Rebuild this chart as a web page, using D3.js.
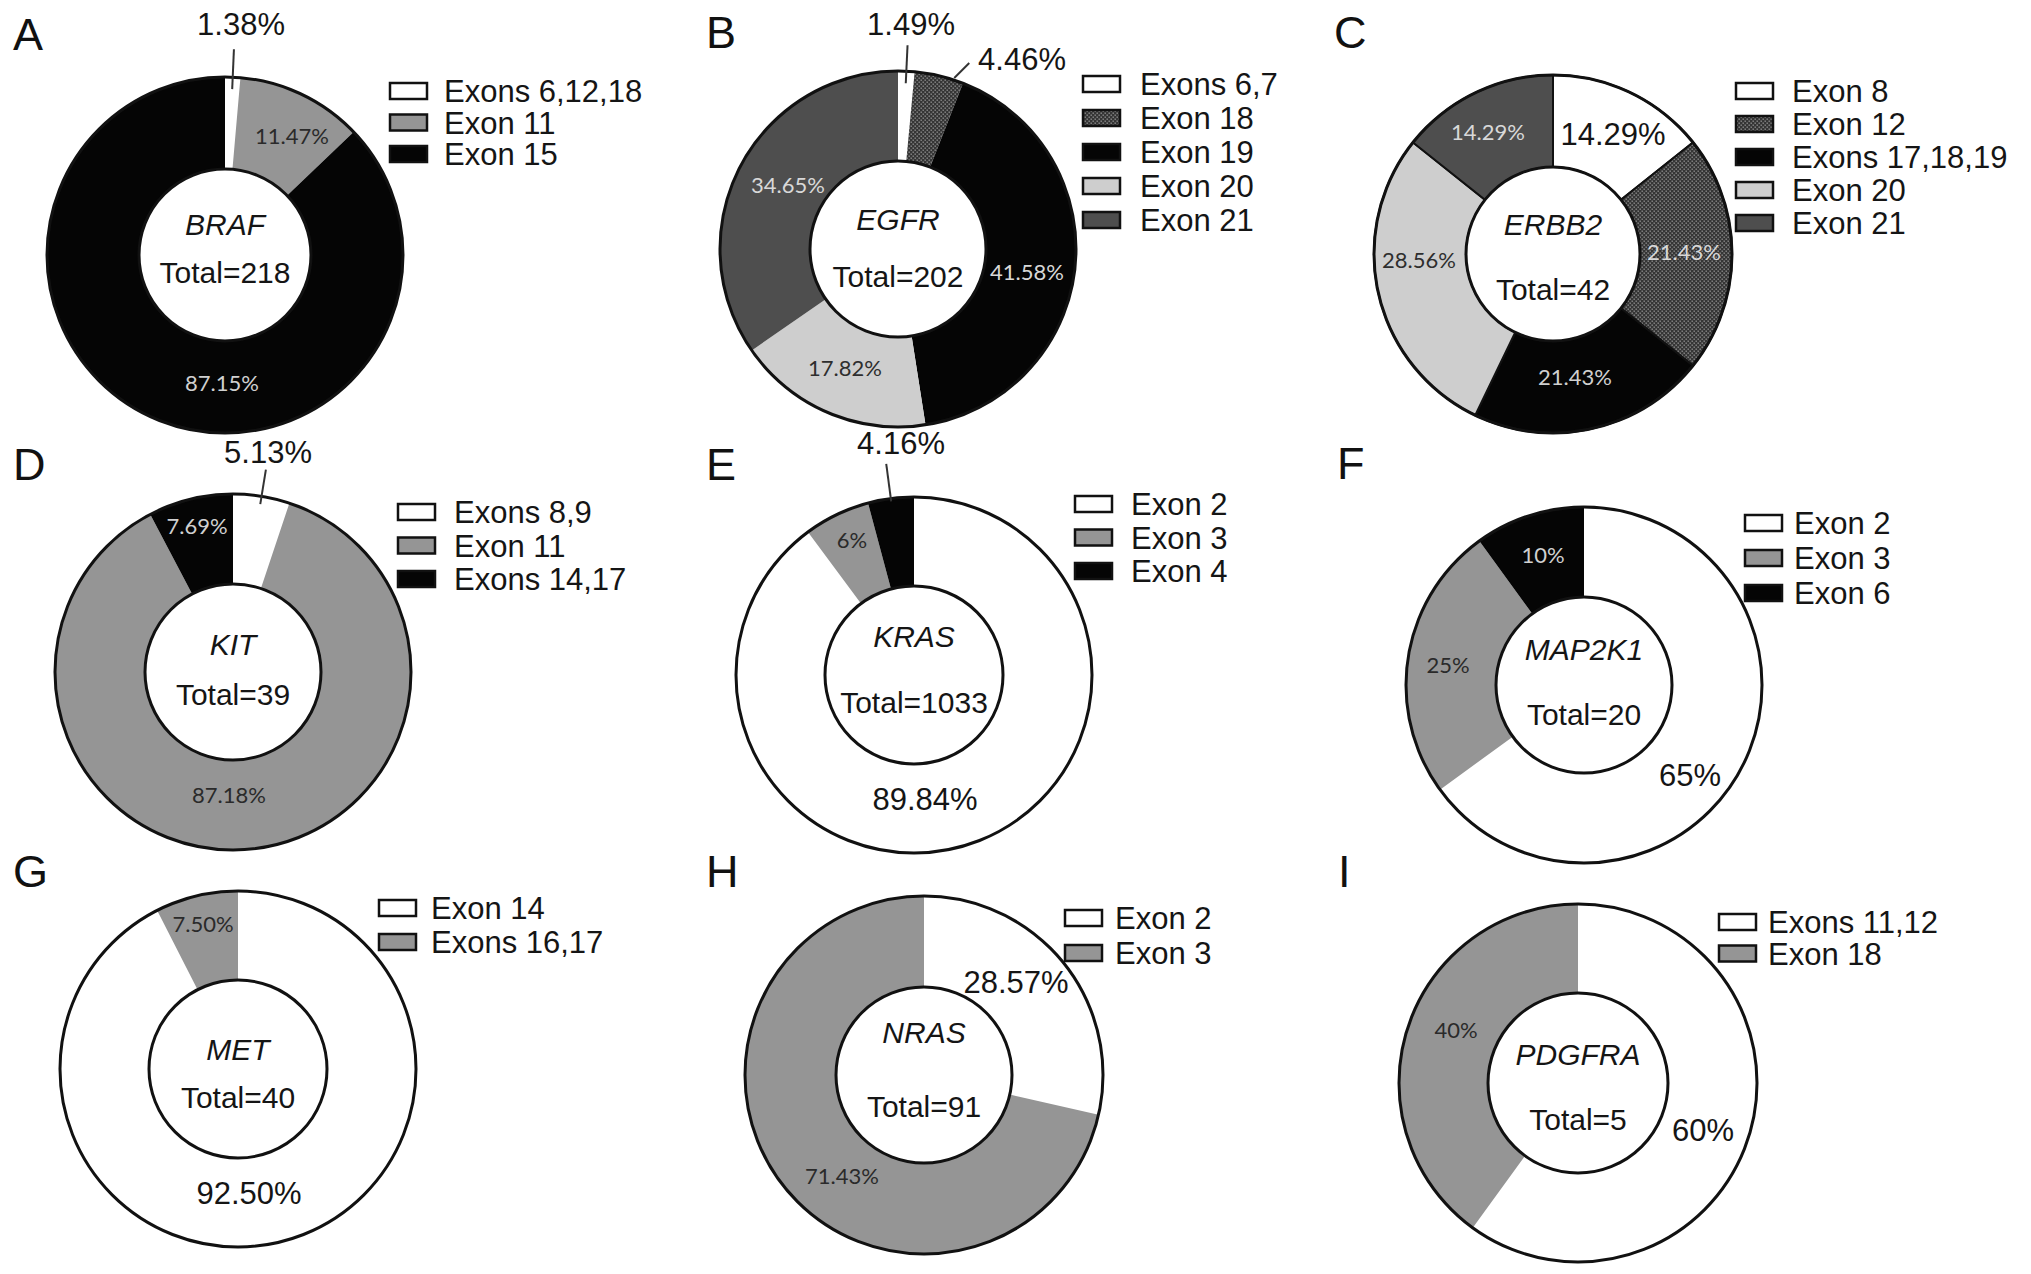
<!DOCTYPE html>
<html>
<head>
<meta charset="utf-8">
<script src="https://cdn.jsdelivr.net/npm/d3@7"></script>
<style>
  html, body { margin: 0; padding: 0; background: #fff; }
  svg { display: block; }
</style>
</head>
<body>
<script>
// ---------------- DATA ----------------
const PANEL_LETTERS = ["A", "B", "C", "D", "E", "F", "G", "H", "I"];
const GENES  = ["BRAF", "EGFR", "ERBB2", "KIT", "KRAS", "MAP2K1", "MET", "NRAS", "PDGFRA"];
const TOTALS = [218, 202, 42, 39, 1033, 20, 40, 91, 5];

const BRAF_EXONS  = ["Exons 6,12,18", "Exon 11", "Exon 15"];
const BRAF_VALUES = [1.38, 11.47, 87.15];
const BRAF_LABELS = ["1.38%", "11.47%", "87.15%"];

const EGFR_EXONS  = ["Exons 6,7", "Exon 18", "Exon 19", "Exon 20", "Exon 21"];
const EGFR_VALUES = [1.49, 4.46, 41.58, 17.82, 34.65];
const EGFR_LABELS = ["1.49%", "4.46%", "41.58%", "17.82%", "34.65%"];

const ERBB2_EXONS  = ["Exon 8", "Exon 12", "Exons 17,18,19", "Exon 20", "Exon 21"];
const ERBB2_VALUES = [14.29, 21.43, 21.43, 28.56, 14.29];
const ERBB2_LABELS = ["14.29%", "21.43%", "21.43%", "28.56%", "14.29%"];

const KIT_EXONS  = ["Exons 8,9", "Exon 11", "Exons 14,17"];
const KIT_VALUES = [5.13, 87.18, 7.69];
const KIT_LABELS = ["5.13%", "87.18%", "7.69%"];

const KRAS_EXONS  = ["Exon 2", "Exon 3", "Exon 4"];
const KRAS_VALUES = [89.84, 6, 4.16];
const KRAS_LABELS = ["89.84%", "6%", "4.16%"];

const MAP2K1_EXONS  = ["Exon 2", "Exon 3", "Exon 6"];
const MAP2K1_VALUES = [65, 25, 10];
const MAP2K1_LABELS = ["65%", "25%", "10%"];

const MET_EXONS  = ["Exon 14", "Exons 16,17"];
const MET_VALUES = [92.5, 7.5];
const MET_LABELS = ["92.50%", "7.50%"];

const NRAS_EXONS  = ["Exon 2", "Exon 3"];
const NRAS_VALUES = [28.57, 71.43];
const NRAS_LABELS = ["28.57%", "71.43%"];

const PDGFRA_EXONS  = ["Exons 11,12", "Exon 18"];
const PDGFRA_VALUES = [60, 40];
const PDGFRA_LABELS = ["60%", "40%"];

const SERIES = {
  BRAF:   [BRAF_EXONS, BRAF_VALUES, BRAF_LABELS],
  EGFR:   [EGFR_EXONS, EGFR_VALUES, EGFR_LABELS],
  ERBB2:  [ERBB2_EXONS, ERBB2_VALUES, ERBB2_LABELS],
  KIT:    [KIT_EXONS, KIT_VALUES, KIT_LABELS],
  KRAS:   [KRAS_EXONS, KRAS_VALUES, KRAS_LABELS],
  MAP2K1: [MAP2K1_EXONS, MAP2K1_VALUES, MAP2K1_LABELS],
  MET:    [MET_EXONS, MET_VALUES, MET_LABELS],
  NRAS:   [NRAS_EXONS, NRAS_VALUES, NRAS_LABELS],
  PDGFRA: [PDGFRA_EXONS, PDGFRA_VALUES, PDGFRA_LABELS]
};

// ---------------- STYLE / LAYOUT ----------------
const COLORS = {
  white: "#ffffff", gray: "#959595", black: "#050505",
  light: "#cecece", dark: "#4e4e4e", hatch: "url(#hatch)"
};
const FILLS = {
  BRAF: ["white", "gray", "black"],
  EGFR: ["white", "hatch", "black", "light", "dark"],
  ERBB2: ["white", "hatch", "black", "light", "dark"],
  KIT: ["white", "gray", "black"],
  KRAS: ["white", "gray", "black"],
  MAP2K1: ["white", "gray", "black"],
  MET: ["white", "gray"],
  NRAS: ["white", "gray"],
  PDGFRA: ["white", "gray"]
};
const BIG = "big";
const LAYOUT = {
  BRAF:   { c: [225, 255], R: 178, r: 86, letter: [13, 50], legend: [390, 444, 91, 31.5], gene: -20, total: 28, stroke: false,
            labels: [[16, -231, BIG], [67, -119, "#2a2a2a"], [-3, 128, "#d0d0d0"]],
            leaders: [[0, 0.5, -12, 28, 0, 0]] },
  EGFR:   { c: [898, 249], R: 178, r: 88, letter: [706, 48], legend: [1083, 1140, 84, 34], gene: -19, total: 38, stroke: false,
            labels: [[13, -225, BIG], [124, -190, BIG], [129, 23, "#d8d8d8"], [-53, 119, "#2e2e2e"], [-110, -64, "#d8d8d8"]],
            leaders: [[0, 0.5, -12, 26, 0, 0], [1, 0.8, 2, 2, 15, -15]] },
  ERBB2:  { c: [1553, 254], R: 179, r: 87, letter: [1334, 48], legend: [1736, 1792, 91, 33], gene: -19, total: 46, stroke: true,
            labels: [[60, -120, BIG], [131, -2, "#d8d8d8"], [22, 123, "#d0d0d0"], [-134, 6, "#2e2e2e"], [-65, -122, "#d8d8d8"]],
            leaders: [] },
  KIT:    { c: [233, 672], R: 178, r: 88, letter: [13, 480], legend: [398, 454, 512, 33.5], gene: -17, total: 33, stroke: false,
            labels: [[35, -220, BIG], [-4, 123, "#2a2a2a"], [-36, -146, "#d0d0d0"]],
            leaders: [[0, 0.5, -8, 27, 0, 0]] },
  KRAS:   { c: [914, 675], R: 178, r: 89, letter: [706, 480], legend: [1075, 1131, 504, 33.5], gene: -28, total: 38, stroke: false,
            labels: [[11, 124, BIG], [-62, -135, "#2a2a2a"], [-13, -232, BIG]],
            leaders: [[2, 0.5, -3, 35, 0, 0]] },
  MAP2K1: { c: [1584, 685], R: 178, r: 88, letter: [1337, 479], legend: [1745, 1794, 523, 35], gene: -25, total: 40, stroke: false,
            labels: [[106, 90, BIG], [-136, -20, "#2a2a2a"], [-41, -130, "#d0d0d0"]],
            leaders: [] },
  MET:    { c: [238, 1069], R: 178, r: 89, letter: [13, 887], legend: [379, 431, 908, 34], gene: -9, total: 39, stroke: false,
            labels: [[11, 124, BIG], [-35, -145, "#2a2a2a"]],
            leaders: [] },
  NRAS:   { c: [924, 1075], R: 179, r: 88, letter: [706, 887], legend: [1065, 1115, 918, 35], gene: -32, total: 42, stroke: false,
            labels: [[92, -93, BIG], [-82, 101, "#2a2a2a"]],
            leaders: [] },
  PDGFRA: { c: [1578, 1083], R: 179, r: 90, letter: [1338, 887], legend: [1719, 1768, 922, 31.5], gene: -18, total: 47, stroke: false,
            labels: [[125, 47, BIG], [-122, -53, "#2a2a2a"]],
            leaders: [] }
};

const MAIN_FONT = "'Liberation Sans', Arial, Helvetica, sans-serif";
const SMALL_FONT = "Lato, 'Open Sans', sans-serif";

// ---------------- DRAW ----------------
const W = 2031, H = 1274;
const svg = d3.select("body").append("svg")
  .attr("width", W).attr("height", H)
  .attr("viewBox", `0 0 ${W} ${H}`);

svg.append("rect").attr("width", W).attr("height", H).attr("fill", "#fff");

const defs = svg.append("defs");
const pat = defs.append("pattern").attr("id", "hatch")
  .attr("patternUnits", "userSpaceOnUse").attr("width", 4).attr("height", 4);
pat.append("rect").attr("width", 4).attr("height", 4).attr("fill", "#353535");
pat.append("rect").attr("x", 0.5).attr("y", 0.5).attr("width", 1.4).attr("height", 1.4).attr("fill", "#8c8c8c");
pat.append("rect").attr("x", 2.5).attr("y", 2.5).attr("width", 1.4).attr("height", 1.4).attr("fill", "#8c8c8c");

const pie = d3.pie().sort(null).value(d => d);

GENES.forEach((gene, gi) => {
  const [exons, values, labels] = SERIES[gene];
  const L = LAYOUT[gene];
  const fills = FILLS[gene];
  const [cx, cy] = L.c;

  // panel letter
  svg.append("text")
    .attr("x", L.letter[0]).attr("y", L.letter[1])
    .attr("font-family", MAIN_FONT).attr("font-size", 45)
    .attr("fill", "#111")
    .text(PANEL_LETTERS[gi]);

  const g = svg.append("g").attr("transform", `translate(${cx},${cy})`);
  const arcs = pie(values);
  const arc = d3.arc().innerRadius(L.r).outerRadius(L.R);

  g.selectAll("path.slice").data(arcs).join("path")
    .attr("class", "slice")
    .attr("d", arc)
    .attr("fill", (d, i) => COLORS[fills[i]])
    .attr("stroke", L.stroke ? "#111" : "none")
    .attr("stroke-width", L.stroke ? 2 : 0);

  // outer & inner outlines
  g.append("circle").attr("r", L.R).attr("fill", "none").attr("stroke", "#111").attr("stroke-width", 3);
  g.append("circle").attr("r", L.r).attr("fill", "#fff").attr("stroke", "#111").attr("stroke-width", 3);

  // leader lines
  L.leaders.forEach(([si, frac, r0off, r1off, dx, dy]) => {
    const a = arcs[si];
    const ang = a.startAngle + (a.endAngle - a.startAngle) * frac;
    const p0 = [Math.sin(ang) * (L.R + r0off), -Math.cos(ang) * (L.R + r0off)];
    let p1;
    if (dx || dy) p1 = [p0[0] + dx, p0[1] + dy];
    else p1 = [Math.sin(ang) * (L.R + r1off), -Math.cos(ang) * (L.R + r1off)];
    g.append("line")
      .attr("x1", p0[0]).attr("y1", p0[1]).attr("x2", p1[0]).attr("y2", p1[1])
      .attr("stroke", "#333").attr("stroke-width", 2);
  });

  // percentage labels
  labels.forEach((txt, i) => {
    const [ox, oy, style] = L.labels[i];
    const big = style === BIG;
    g.append("text")
      .attr("x", ox).attr("y", oy).attr("dy", "0.35em")
      .attr("text-anchor", "middle")
      .attr("font-family", big ? MAIN_FONT : SMALL_FONT)
      .attr("font-size", big ? 31 : 22)
      .attr("fill", big ? "#151515" : style)
      .text(txt);
  });

  // center text
  g.append("text")
    .attr("x", 0).attr("y", L.gene)
    .attr("text-anchor", "middle")
    .attr("font-family", MAIN_FONT).attr("font-size", 30).attr("font-style", "italic")
    .attr("fill", "#151515")
    .text(gene);
  g.append("text")
    .attr("x", 0).attr("y", L.total)
    .attr("text-anchor", "middle")
    .attr("font-family", MAIN_FONT).attr("font-size", 30)
    .attr("fill", "#151515")
    .text("Total=" + TOTALS[gi]);

  // legend
  const [bx, tx, y0, step] = L.legend;
  const lg = svg.append("g");
  exons.forEach((ex, i) => {
    const y = y0 + i * step;
    lg.append("rect")
      .attr("x", bx).attr("y", y - 8).attr("width", 37).attr("height", 16)
      .attr("fill", COLORS[fills[i]])
      .attr("stroke", "#111").attr("stroke-width", 2.5);
    lg.append("text")
      .attr("x", tx).attr("y", y).attr("dy", "0.36em")
      .attr("font-family", MAIN_FONT).attr("font-size", 31)
      .attr("fill", "#151515")
      .text(ex);
  });
});
</script>
</body>
</html>
